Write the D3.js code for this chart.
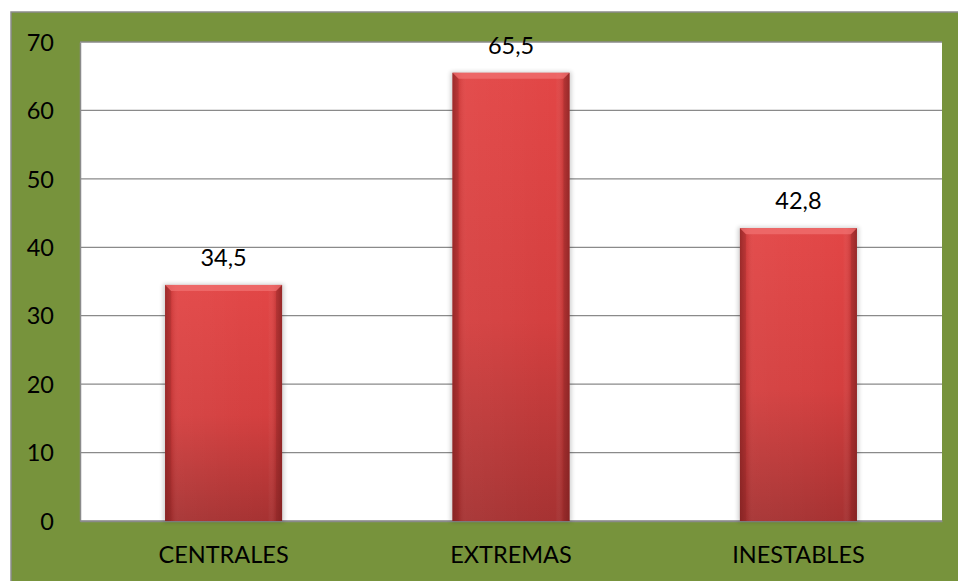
<!DOCTYPE html>
<html>
<head>
<meta charset="utf-8">
<script src="https://cdn.jsdelivr.net/npm/d3@7"></script>
<style>
  html, body { margin: 0; padding: 0; background: #ffffff; }
  svg { display: block; }
  text { font-family: Lato, "Open Sans", sans-serif; fill: #000; }
</style>
</head>
<body>
<svg id="chart" width="958" height="581"></svg>
<script>
// Chart data
const categories = ["CENTRALES", "EXTREMAS", "INESTABLES"];
const values = [34.5, 65.5, 42.8];
const valueLabels = ["34,5", "65,5", "42,8"];
const yTicks = [0, 10, 20, 30, 40, 50, 60, 70];

const W = 958, H = 581;
const frame = { left: 11, top: 12 };
const plot = { left: 80, top: 42, right: 942, bottom: 521 };
const fontSize = "23.5px";

const svg = d3.select("#chart");
const defs = svg.append("defs");

// Vertical shading of the bar body
const gV = defs.append("linearGradient").attr("id", "barV")
  .attr("x1", 0).attr("y1", 0).attr("x2", 0).attr("y2", 1);
gV.append("stop").attr("offset", "0%").attr("stop-color", "#e24646");
gV.append("stop").attr("offset", "55%").attr("stop-color", "#d43f3f");
gV.append("stop").attr("offset", "100%").attr("stop-color", "#a63232");

// Darkened left/right edges
const gH = defs.append("linearGradient").attr("id", "barH")
  .attr("x1", 0).attr("y1", 0).attr("x2", 1).attr("y2", 0);
gH.append("stop").attr("offset", "0%").attr("stop-color", "#6e1a1a").attr("stop-opacity", 0.55);
gH.append("stop").attr("offset", "6%").attr("stop-color", "#6e1a1a").attr("stop-opacity", 0.12);
gH.append("stop").attr("offset", "12%").attr("stop-color", "#ffffff").attr("stop-opacity", 0.04);
gH.append("stop").attr("offset", "88%").attr("stop-color", "#ffffff").attr("stop-opacity", 0.0);
gH.append("stop").attr("offset", "94%").attr("stop-color", "#6e1a1a").attr("stop-opacity", 0.15);
gH.append("stop").attr("offset", "100%").attr("stop-color", "#6e1a1a").attr("stop-opacity", 0.6);

const shadow = defs.append("filter").attr("id", "soft")
  .attr("x", "-10%").attr("y", "-10%").attr("width", "120%").attr("height", "120%");
shadow.append("feGaussianBlur").attr("stdDeviation", 2);

// Green frame
svg.append("rect")
  .attr("x", frame.left).attr("y", frame.top)
  .attr("width", W - frame.left + 2).attr("height", H - frame.top + 2)
  .attr("fill", "#77933c").attr("stroke", "#8c8c8c").attr("stroke-width", 1.5);

// White plot area
svg.append("rect")
  .attr("x", plot.left).attr("y", plot.top)
  .attr("width", plot.right - plot.left).attr("height", plot.bottom - plot.top)
  .attr("fill", "#ffffff");

const x = d3.scaleBand().domain(categories)
  .range([plot.left, plot.right]).paddingInner(0.593).paddingOuter(0.296);
const y = d3.scaleLinear().domain([0, 70]).range([plot.bottom, plot.top]);

// Gridlines
svg.append("g").selectAll("line").data(yTicks).join("line")
  .attr("x1", plot.left).attr("x2", plot.right)
  .attr("y1", d => y(d)).attr("y2", d => y(d))
  .attr("stroke", "#8a8a8a").attr("stroke-width", 1.3);

// Y axis
const yAxis = svg.append("g")
  .attr("transform", `translate(${plot.left},0)`)
  .call(d3.axisLeft(y).tickValues(yTicks).tickSize(0).tickPadding(26).tickFormat(d3.format("d")));
yAxis.select(".domain").attr("stroke", "#8a8a8a").attr("stroke-width", 1.5);
yAxis.selectAll("text").style("font-size", fontSize).attr("dy", "0.35em")
  .style("font-family", "Lato, 'Open Sans', sans-serif").attr("fill", "#000");

// X axis
const xAxis = svg.append("g")
  .attr("transform", `translate(0,${plot.bottom})`)
  .call(d3.axisBottom(x).tickSize(0).tickPadding(26));
xAxis.select(".domain").attr("stroke", "#8a8a8a").attr("stroke-width", 1.5);
xAxis.selectAll("text").style("font-size", fontSize).attr("y", 34).attr("dy", "0.35em")
  .style("font-family", "Lato, 'Open Sans', sans-serif").attr("fill", "#000");

// Bars
const bars = svg.append("g").selectAll("g").data(categories).join("g");
bars.each(function (c, i) {
  const g = d3.select(this);
  const bx = x(c), bw = x.bandwidth();
  const by = y(values[i]), bh = y(0) - y(values[i]);
  const b = 6;
  g.append("rect").attr("x", bx - 2).attr("y", by - 1).attr("width", bw + 4).attr("height", bh + 2)
    .attr("fill", "#000").attr("opacity", 0.18).attr("filter", "url(#soft)");
  g.append("rect").attr("x", bx).attr("y", by).attr("width", bw).attr("height", bh)
    .attr("fill", "url(#barV)");
  g.append("rect").attr("x", bx).attr("y", by).attr("width", bw).attr("height", bh)
    .attr("fill", "url(#barH)");
  // bevelled top edge
  g.append("polygon")
    .attr("points", `${bx},${by} ${bx + bw},${by} ${bx + bw - b},${by + b} ${bx + b},${by + b}`)
    .attr("fill", "#f07070").attr("opacity", 0.75);
  g.append("polygon")
    .attr("points", `${bx},${by} ${bx + b},${by + b} ${bx + b},${by + bh} ${bx},${by + bh}`)
    .attr("fill", "#8a2424").attr("opacity", 0.25);
  g.append("polygon")
    .attr("points", `${bx + bw},${by} ${bx + bw - b},${by + b} ${bx + bw - b},${by + bh} ${bx + bw},${by + bh}`)
    .attr("fill", "#8a2424").attr("opacity", 0.3);
});

// Value labels
svg.append("g").selectAll("text").data(categories).join("text")
  .attr("x", c => x(c) + x.bandwidth() / 2)
  .attr("y", (c, i) => y(values[i]) - 27)
  .attr("dy", "0.35em")
  .attr("text-anchor", "middle")
  .style("font-size", fontSize)
  .text((c, i) => valueLabels[i]);
</script>
</body>
</html>
